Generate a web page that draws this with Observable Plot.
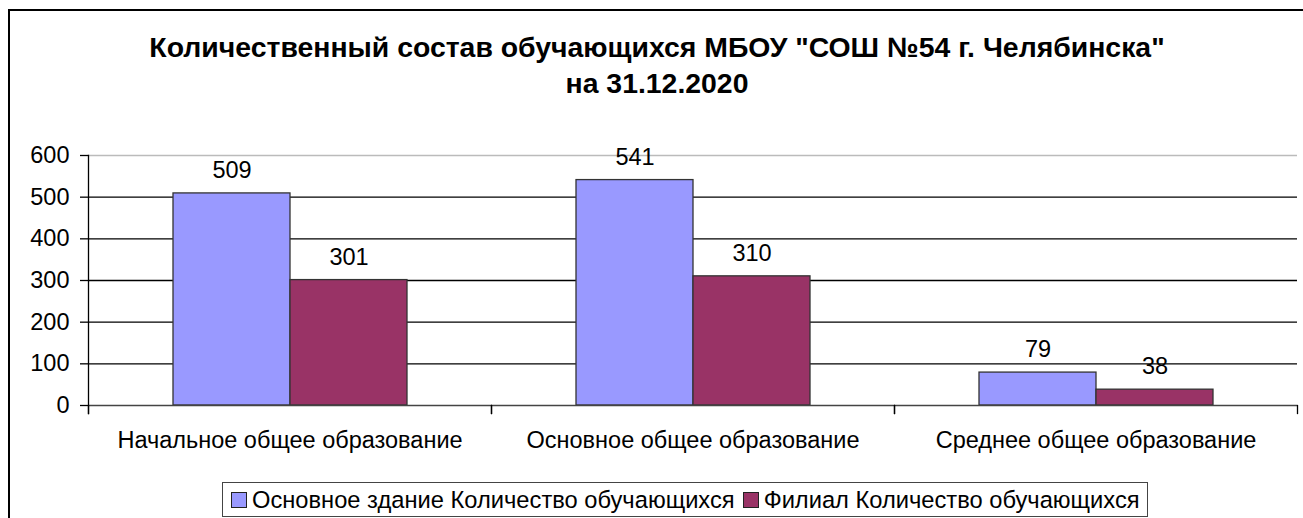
<!DOCTYPE html>
<html><head><meta charset="utf-8">
<script src="https://cdn.jsdelivr.net/npm/d3@7"></script>
<script src="https://cdn.jsdelivr.net/npm/@observablehq/plot@0.6"></script>
<style>
body{margin:0;background:#fff;font-family:Arial,"Liberation Sans",sans-serif;color:#000;}
#wrap{position:relative;width:1303px;height:518px;overflow:hidden;background:#fff;}
#border{position:absolute;left:8px;top:9px;width:1400px;height:600px;border:2px solid #000;box-sizing:border-box;}
#title{position:absolute;left:0;top:29px;width:1314px;text-align:center;font-weight:bold;font-size:28.4px;line-height:36px;}
#chart{position:absolute;left:0;top:135px;}
#legend{position:absolute;left:222px;top:482px;height:35px;border:1.5px solid #444;box-sizing:border-box;display:inline-flex;align-items:center;padding:0 7px 0 8px;font-size:23.7px;line-height:26px;white-space:nowrap;}
.item{display:flex;align-items:center;margin-right:8px;}
.item:last-child{margin-right:0;}
.sw{width:14px;height:14px;border:1.5px solid #222;margin-right:5px;}
</style>
</head><body>
<div id="wrap">
  <div id="border"></div>
  <div id="title"></div>
  <div id="chart"></div>
  <div id="legend"></div>
</div>
<script>
const titleLines = ["Количественный состав обучающихся МБОУ \"СОШ №54 г. Челябинска\"", "на 31.12.2020"];
const categories = ["Начальное общее образование", "Основное общее образование", "Среднее общее образование"];
const series = ["Основное здание Количество обучающихся", "Филиал Количество обучающихся"];
const mainValues = [509, 541, 79];
const branchValues = [301, 310, 38];
const yTicks = [0, 100, 200, 300, 400, 500, 600];
const colors = ["#9999FF", "#993366"];

const data = categories.flatMap((c, i) => [
  {category: c, series: series[0], value: mainValues[i]},
  {category: c, series: series[1], value: branchValues[i]}
]);

document.getElementById("title").innerHTML = titleLines.join("<br>");

const plot = Plot.plot({
  width: 1303, height: 330,
  marginLeft: 87, marginRight: 6, marginTop: 20, marginBottom: 60,
  style: {fontFamily: "Arial, 'Liberation Sans', sans-serif", fontSize: "23.5px", color: "#000", background: "transparent", overflow: "visible"},
  fx: {domain: categories, padding: 0, label: null},
  x: {domain: series, paddingInner: 0, paddingOuter: 0.72, axis: null},
  y: {domain: [0, 600], label: null},
  color: {domain: series, range: colors},
  marks: [
    Plot.ruleY(yTicks.filter(v => v > 0 && v < 600), {stroke: "#000", strokeWidth: 1.3}),
    Plot.ruleY([600], {stroke: "#bbb", strokeWidth: 1.3}),
    Plot.barY(data, {fx: "category", x: "series", y: "value", fill: "series", stroke: "#333", strokeWidth: 1.3}),
    Plot.text(data, {fx: "category", x: "series", y: "value", text: d => String(d.value), dy: -23, fontSize: 23.5, fill: "#000"}),
    Plot.ruleY([0], {stroke: "#444", strokeWidth: 1.3}),
    Plot.frame({anchor: "left", facetAnchor: "left", insetBottom: -8, stroke: "#000", strokeWidth: 1.3}),
    Plot.frame({anchor: "left", insetTop: 250, insetBottom: -8, stroke: "#000", strokeWidth: 1.3}),
    Plot.frame({anchor: "right", insetTop: 250, insetBottom: -8, stroke: "#000", strokeWidth: 1.3}),
    Plot.axisY({ticks: yTicks, tickSize: 8, tickPadding: 11, label: null, fontSize: 23.5, strokeWidth: 1.3}),
    Plot.axisFx({anchor: "bottom", tickSize: 0, tickPadding: 26, label: null, fontSize: 23.5})
  ]
});
document.getElementById("chart").appendChild(plot);

const legend = document.getElementById("legend");
series.forEach((s, i) => {
  const item = document.createElement("div");
  item.className = "item";
  item.innerHTML = `<div class="sw" style="background:${colors[i]}"></div><span>${s}</span>`;
  legend.appendChild(item);
});
</script>
</body></html>
